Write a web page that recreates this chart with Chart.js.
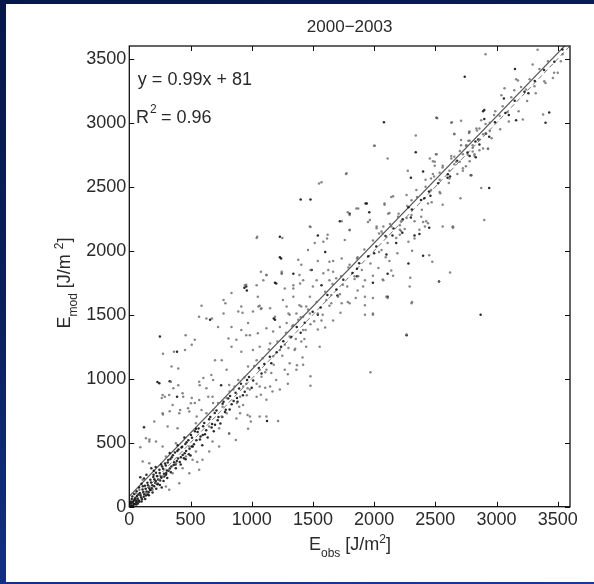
<!DOCTYPE html>
<html>
<head>
<meta charset="utf-8">
<script src="https://cdn.jsdelivr.net/npm/chart.js@4.4.0/dist/chart.umd.min.js"></script>
<style>
html, body { margin: 0; padding: 0; }
body { width: 594px; height: 584px; position: relative; overflow: hidden;
  background: linear-gradient(165deg, #06184a 0%, #0a2160 45%, #17399a 100%); }
#panel { position: absolute; left: 6px; top: 4px; width: 588px; height: 578px; background: #fff; }
canvas { display: block; }
</style>
</head>
<body>
<div id="panel"><canvas id="graficaDispersion" width="588" height="578"></canvas></div>
<script>
// Datos (E_obs, E_mod en J/m2)
var titulo = '2000\u22122003';
var ticksX = [0, 500, 1000, 1500, 2000, 2500, 3000, 3500];
var ticksY = [0, 500, 1000, 1500, 2000, 2500, 3000, 3500];
var ecuacion = 'y = 0.99x + 81';
var r2 = '0.96';

// recta de ajuste (y = 0.99x + 81) y recta 1:1, extremos dentro del eje
var rectaAjuste = [[0, 81], [3555, 3600]];
var rectaUnoUno = [[0, 0], [3600, 3600]];

// puntos oscuros
var puntosOscuros = [
  [2740,3360],[2080,3005],[2340,2770],[2940,2490],[2870,1500],[2265,1340],[1400,2400],[1230,2110],[1230,1950],
  [955,1720],[1125,670],[250,1330],[230,975],[660,1460],[960,1690],[1200,1745],[1340,1820],[1190,1460],[390,1210],
  [330,980],[390,860],[750,950],[1480,2400],[1540,2120],[1600,1990],[1240,1940],[1490,1850],[1720,2230],[1800,2290],
  [1930,2370],[1960,2300],[1860,1860],[1570,1730],[1190,1750],[940,1710],[1990,1750],[1180,1470],[2890,3090],
  [2900,3030],[2850,2870],[2400,2620],[2300,2570],[2410,2410],[2280,2340],[1940,2370],[2330,2120],[3150,3420],
  [3060,3190],[3430,3080],[3400,3000],[3160,3020],[2900,3100],[2510,3040],[2860,2830],[2790,2590],[2830,2730],
  [2600,2570],[2230,2140],[2370,2130],[2180,2060],[2450,2180],[2400,1960],[2100,1970],[2280,1900],[2110,1820],
  [2530,1760],[2110,1640],[245,964],[120,620],[510,470],
  [15,25],[30,10],[42,58],[55,33],[63,84],[78,48],[86,108],[97,72],[108,135],[122,98],[127,163],[141,118],
  [148,188],[163,146],[172,210],[188,168],[196,232],[212,186],[218,266],[236,212],[246,288],[258,236],[268,315],
  [283,258],[292,338],[307,282],[318,364],[331,298],[347,387],[362,326],[373,424],[388,357],[402,447],[421,386],
  [432,468],[452,418],[468,503],[492,452],[512,538],[528,488],[558,583],[577,526],[603,628],[618,566],[652,684],
  [672,618],[698,733],[722,676],[762,804],[788,757],[823,866],[852,826],[897,924],[943,898],[978,1013],[1012,986],
  [1058,1083],[1103,1116],[1148,1172],[1204,1207],[1258,1293],[1322,1327],[1368,1404],[1433,1437],[1498,1524],
  [1563,1556],[1618,1654],[1692,1697],[1748,1774],[1823,1826],[1878,1903],[1952,1957],[2018,2034],[2093,2116],
  [2158,2174],[2233,2246],[2308,2323],[2383,2397],[2448,2463],[2523,2527],[2602,2598],[2678,2703],[2763,2768],
  [2828,2853],[2912,2917],[2987,3004],[3072,3077],[3148,3173],[3228,3243],[3312,3327],[3388,3413],[3472,3477],
  [3538,3572],
  [20,60],[45,20],[70,25],[100,40],[130,60],[160,90],[190,110],[220,140],[250,170],[280,200],[60,120],[80,150],
  [100,180],[120,220],[140,250],[90,230],[40,100],[25,80],[200,280],[310,225],[150,95],[175,130],[230,175],
  [265,150],[300,250],[340,270],[380,300],[420,330],[460,370],[500,400],[215,310],[180,300],[110,160],[65,40],
  [35,45],[10,10],[8,30],[22,5],[50,70],[75,95],[205,215],[260,330],[330,420],[395,480],[450,540],[545,610],
  [600,560],[700,640],[760,700],[820,760],[880,850],[1000,930],[1080,1040],[1160,1120],[1240,1250],[1400,1360],
  [1540,1500],[1700,1650],[1860,1800],[2000,1980],[2150,2120],[2300,2260],[2460,2430],[2620,2580],[2780,2740],
  [2940,2890],[3100,3060],[3260,3230],
  [12,40],[28,35],[38,22],[52,48],[58,18],[68,62],[82,38],[92,88],[104,58],[115,115],[118,78],[133,140],[136,88],
  [152,168],[158,112],[168,130],[178,190],[184,145],[198,250],[203,160],[216,200],[226,240],[232,180],[248,264],
  [252,205],[262,226],[276,296],[286,236],[298,322],[302,264],[314,345],[322,280],[336,372],[344,314],[356,402],
  [366,348],[378,330],[392,436],[398,376],[412,350],[426,462],[436,404],[446,378],[458,490],[464,436],[482,520],
  [486,410],[504,560],[518,470],[536,590],[548,520],[566,612],[582,548],[596,480],[612,654],[628,598],[640,540],
  [662,700],[676,646],[690,590],[712,752],[728,700],[744,650],[770,820],[782,740],[808,846],[836,800],[868,890],
  [884,820],[912,960],[928,870],[962,990]
];

// puntos claros
var puntosClaros = [
  [340,977],[571,977],[816,951],[966,925],[272,873],[326,873],[435,886],[354,795],[503,808],[571,834],[680,860],
  [762,782],[898,782],[966,717],[993,665],[272,730],[408,730],[490,743],[204,665],[313,626],[394,613],[544,652],
  [653,626],[734,613],[816,574],[870,522],[136,535],[163,509],[218,509],[272,470],[381,496],[490,470],[544,431],
  [653,431],[734,470],[680,509],[109,353],[163,340],[299,392],[381,340],[435,301],[517,366],[598,366],[354,262],
  [272,236],[218,184],[299,158],[163,158],[109,210],[82,132],[54,106],[136,106],[190,132],[245,210],[326,288],
  [462,392],[490,262],[571,288],[408,184],[326,132],
  [590,1570],[770,1615],[835,1670],[944,1730],[1040,1730],[1120,1810],[1245,1820],[1390,1810],[1340,1730],
  [1050,1640],[1065,1570],[1150,1550],[1010,1525],[1255,1615],[1285,1565],[1390,1575],[1445,1565],[1300,1510],
  [1365,1510],[1420,1485],[970,1435],[890,1525],[770,1510],[630,1470],[725,1405],[835,1405],[915,1380],[985,1340],
  [1050,1355],[1120,1395],[1175,1370],[1230,1405],[1285,1435],[1340,1420],[1380,1460],[1420,1380],[535,1305],
  [510,1265],[455,1225],[345,1095],[360,925],[400,950],[290,860],[265,850],[440,860],[510,850],[535,810],[480,770],
  [590,755],[415,755],[330,745],[275,720],[605,1005],[670,1030],[575,950],[630,925],[685,990],[795,1070],[700,1145],
  [755,1145],[835,1250],[810,1315],[875,1305],[955,1340],[915,1210],[1010,1225],[1065,1250],[1040,1145],[970,1095],
  [1065,1070],[1120,1070],[1080,1015],[1160,1045],[1200,990],[1270,1070],[1310,1120],[1365,1070],[1420,1110],
  [1350,1225],[1405,1290],[1445,1250],[1175,1175],[1230,1225],[1270,1265],[1310,1330],[1150,1275],[890,990],
  [930,940],[850,915],[905,860],[985,915],[1065,940],[1150,940],[1230,915],[1040,860],[1120,835],[930,795],[795,850],
  [725,810],[685,755],[795,730],[905,730],[985,705],[1065,705],[1120,705],[875,690],[755,705],[630,730],[685,810],
  [645,860],[550,705],
  [1770,2600],[1550,2525],[1040,2100],[1250,2100],[1475,2190],[1620,2125],[1585,2070],[1515,2060],[1460,2005],
  [1380,1930],[1405,1890],[1245,1825],[1635,1915],[1625,1850],[1665,1835],[1855,2330],[1950,2225],[2020,2175],
  [2085,2370],[2140,2420],[2115,2290],[1800,2160],[1760,2085],[1735,1940],[1800,1890],[1840,1800],[1745,1735],
  [1690,1785],[1635,1770],[1585,1825],[1530,1770],[1500,1720],[1420,1770],[1395,1745],[1340,1705],[1270,1705],
  [1120,1810],[1095,1770],[955,1735],[1055,1565],[1080,1550],[915,1565],[1340,1640],[1405,1565],[1475,1640],
  [1475,1510],[1540,1510],[1610,1615],[1650,1655],[1705,1640],[1735,1590],[1800,1590],[1870,1800],[1925,1770],
  [1925,1640],[1925,1575],[1990,1630],[2075,1770],[2100,1640],[1925,1500],[1990,1510],[1190,1485],[1310,1500],
  [2515,3035],[2635,3005],[2710,3015],[2655,2915],[2780,2930],[2860,2955],[2915,2915],[2340,2900],[2005,2820],
  [2110,2720],[2510,2755],[2455,2720],[2495,2695],[2710,2865],[2755,2825],[2805,2825],[2805,2775],[2860,2785],
  [2655,2735],[2700,2695],[2765,2750],[1775,2605],[2275,2625],[2420,2555],[2465,2565],[2535,2555],[2615,2565],
  [2725,2645],[2795,2590],[2670,2695],[2875,2490],[2930,2800],[2705,2410],[2560,2360],[2535,2460],[2465,2475],
  [2440,2370],[2345,2475],[2265,2435],[2305,2395],[2155,2425],[2085,2360],[1870,2330],[1800,2280],[2125,2295],
  [2195,2265],[2265,2255],[2305,2280],[2385,2265],[2425,2230],[2415,2190],[2220,2230],[2210,2165],[2140,2190],
  [2075,2190],[2020,2190],[1965,2240],[1800,2165],[1735,2230],[2040,2135],[2100,2110],[2210,2125],[2370,2165],
  [2560,2190],[2645,2190],[2900,2240],[2440,2215],
  [2910,3535],[3335,3570],[3160,3340],[3175,3330],[3295,3455],[3065,3270],[3040,3215],[3145,3255],[3240,3260],
  [3310,3285],[3390,3325],[3460,3350],[3500,3390],[3525,3480],[3540,3535],[3380,3065],[3215,3025],[3090,3085],
  [2990,3090],[2875,3020],[2945,3000],[3025,3055],[2630,3000],[2655,2910],[2775,2930],[2835,2955],[2890,2910],
  [2945,2935],[2860,2870],[2780,2860],[2710,2825],[2750,2820],[2805,2805],[2930,2795],[2820,2755],[2725,2755],
  [2630,2740],[2505,2755],[2480,2700],[2495,2665],[2615,2625],[2725,2625],[2780,2700],[2655,2675],[2560,2665],
  [2535,2610],[2480,2600],
  [2070,2135],[2210,2200],[2330,2095],[2400,2225],[2645,2180],[2310,2000],[2450,1965],[2475,1915],[2060,2005],
  [2140,1845],[2070,1775],[2620,1830],[2290,1720],[2305,1590],[2265,1345],
  [2000,2820],[2775,2920],[2530,1760],[2640,2185],[2295,1790],[2310,1600],[2110,1630],[2095,1950],[1990,1500],
  [1970,1050],[1865,1690],[1865,1950],[1785,2300],[1570,2535],[1480,2185],[1615,2095],[1665,1920],[1540,1920],
  [1480,1850],[1540,1385],[1555,1250],[1480,1020],[1480,945],[1045,2110],[1245,1835],[1075,1835],[1075,1545],
  [925,1515],[785,1590],[675,1470],[570,1485],[460,1340],[365,1210],[275,1195],[400,1080],[1215,670],[970,610],
  [815,570],[555,350],[165,525],[90,465],
  [955,960],[1075,875],[1110,930],[1170,900],[1295,960],[1295,1035],[1370,1105],[1415,1165],[1355,1235],[1430,1310],
  [1480,1425],[1570,1455],[1600,1400],[1665,1455],[1725,1515],[1635,1570],[1785,1600],[1850,1630],[1910,1720],
  [1990,1805],[2035,1865],[2125,1920],[2190,1980],[2155,1805],[2220,2155],[2280,2070],
  [820,900],[860,940],[880,810],[940,1010],[960,870],[1020,1100],[1040,960],[1090,1160],[1110,1050],[1140,1230],
  [1180,1110],[1210,1290],[1250,1180],[1280,1360],[1300,1240],[1330,1410],[1360,1310],[1400,1480],[1440,1380],
  [1460,1540],[1510,1450],[1530,1600],[1580,1500],[1600,1680],[1650,1590],[1660,1740],[1720,1660],[1730,1800],
  [1780,1720],[1790,1870],[1840,1780],[1860,1940],[1900,1850],[1920,2010],[1970,1900],[1990,2080],[2040,1990],
  [2060,2150],[2110,2060],[2130,2210],[2180,2100],[2200,2290],[2250,2170],[2270,2350],[2330,2230],[2350,2420],
  [2390,2320],[2420,2500],[2470,2380],[2490,2580],[2540,2450],[2560,2650],[2610,2530],[2630,2720],[2680,2600],
  [2700,2780],[2750,2660],[2770,2860],[2820,2740],[2840,2940],[2890,2800],[2910,2990],[2960,2880],[2980,3060],
  [3030,2950],[3050,3130],[3100,3010],[3120,3200],[3180,3090],[3200,3280],[3250,3170],[3270,3340],[3320,3230],
  [3350,3420],[3400,3310],[3420,3480],[3470,3390]
];

function aXY(lista) {
  return lista.map(function (p) { return { x: p[0], y: p[1] }; });
}

var fuente = "'Liberation Sans', Arial, Helvetica, sans-serif";
var colorTexto = '#2a2a2a';

// caja con marcas hacia dentro (estilo MATLAB)
var cajaEjes = {
  id: 'cajaEjes',
  afterDatasetsDraw: function (chart) {
    var ctx = chart.ctx, a = chart.chartArea, sx = chart.scales.x, sy = chart.scales.y;
    ctx.save();
    ctx.strokeStyle = '#111';
    ctx.lineWidth = 1.3;
    ctx.strokeRect(a.left, a.top, a.right - a.left, a.bottom - a.top);
    ctx.lineWidth = 1;
    ctx.beginPath();
    ticksX.forEach(function (v) {
      var px = Math.round(sx.getPixelForValue(v)) + 0.5;
      ctx.moveTo(px, a.bottom); ctx.lineTo(px, a.bottom - 5);
      ctx.moveTo(px, a.top); ctx.lineTo(px, a.top + 5);
    });
    ticksY.forEach(function (v) {
      var py = Math.round(sy.getPixelForValue(v)) + 0.5;
      ctx.moveTo(a.left, py); ctx.lineTo(a.left + 5, py);
      ctx.moveTo(a.right, py); ctx.lineTo(a.right - 5, py);
    });
    ctx.stroke();
    ctx.restore();
  }
};

// texto con subindices / superindices
function textoCompuesto(ctx, partes, x, y) {
  var ancho = 0;
  partes.forEach(function (p) {
    ctx.font = p.t + 'px ' + fuente;
    ancho += ctx.measureText(p.s).width;
  });
  var cx = x - ancho / 2;
  partes.forEach(function (p) {
    ctx.font = p.t + 'px ' + fuente;
    ctx.fillText(p.s, cx, y + p.dy);
    cx += ctx.measureText(p.s).width;
  });
}

var textosEjes = {
  id: 'textosEjes',
  afterDraw: function (chart) {
    var ctx = chart.ctx, sx = chart.scales.x, sy = chart.scales.y, a = chart.chartArea;
    ctx.save();
    ctx.fillStyle = colorTexto;
    ctx.textAlign = 'left';
    // titulo
    ctx.textBaseline = 'middle';
    ctx.font = '17px ' + fuente;
    var wt = ctx.measureText(titulo).width;
    ctx.fillText(titulo, (a.left + a.right) / 2 - wt / 2, 23);
    ctx.textBaseline = 'alphabetic';
    // titulo eje x
    textoCompuesto(ctx, [
      { s: 'E', t: 18, dy: 0 }, { s: 'obs', t: 12, dy: 7 }, { s: ' [J/m', t: 18, dy: 0 },
      { s: '2', t: 12, dy: -7 }, { s: ']', t: 18, dy: 0 }
    ], 344, 546);
    // titulo eje y
    ctx.save();
    ctx.translate(64, 279);
    ctx.rotate(-Math.PI / 2);
    textoCompuesto(ctx, [
      { s: 'E', t: 18, dy: 0 }, { s: 'mod', t: 12, dy: 7 }, { s: ' [J/m ', t: 18, dy: 0 },
      { s: '2', t: 12, dy: -7 }, { s: ']', t: 18, dy: 0 }
    ], 0, 0);
    ctx.restore();
    // ecuacion y R2
    ctx.font = '18px ' + fuente;
    ctx.textBaseline = 'middle';
    ctx.fillText(ecuacion, sx.getPixelForValue(70), sy.getPixelForValue(3335));
    var rx = sx.getPixelForValue(55), ry = sy.getPixelForValue(3040);
    ctx.fillText('R', rx, ry);
    var w = ctx.measureText('R').width;
    ctx.font = '12px ' + fuente;
    ctx.fillText('2', rx + w + 1, ry - 8);
    ctx.font = '18px ' + fuente;
    ctx.fillText(' = ' + r2, rx + w + 7, ry);
    ctx.restore();
  }
};

function ticksFijos(lista) {
  return function (s) { s.ticks = lista.map(function (v) { return { value: v }; }); };
}

var ctxDispersion = document.getElementById('graficaDispersion').getContext('2d');
var graficaDispersion = new Chart(ctxDispersion, {
  type: 'scatter',
  data: {
    datasets: [
      {
        label: 'claros',
        data: aXY(puntosClaros),
        backgroundColor: 'rgba(105,105,105,0.8)',
        pointRadius: 1.25,
        pointBorderWidth: 0
      },
      {
        label: 'oscuros',
        data: aXY(puntosOscuros),
        backgroundColor: 'rgba(20,20,20,0.9)',
        pointRadius: 1.25,
        pointBorderWidth: 0
      },
      {
        type: 'line',
        label: '1:1',
        data: aXY(rectaUnoUno),
        borderColor: '#777',
        borderWidth: 1,
        borderDash: [5, 3],
        pointRadius: 0
      },
      {
        type: 'line',
        label: 'ajuste',
        data: aXY(rectaAjuste),
        borderColor: '#555',
        borderWidth: 1.1,
        pointRadius: 0
      }
    ]
  },
  options: {
    responsive: false,
    animation: false,
    layout: { padding: { left: 0, right: 24, top: 42, bottom: 0 } },
    plugins: {
      legend: { display: false },
      tooltip: { enabled: false },
      title: { display: false }
    },
    scales: {
      x: {
        type: 'linear',
        min: 0,
        max: 3600,
        grid: { display: false, drawTicks: false },
        border: { display: false },
        afterBuildTicks: ticksFijos(ticksX),
        ticks: { color: colorTexto, padding: 3, maxRotation: 0, autoSkip: false,
          callback: function (v) { return String(v); },
          font: { family: fuente, size: 18 } },
        afterFit: function (s) { s.height = 75.3; }
      },
      y: {
        type: 'linear',
        min: 0,
        max: 3600,
        grid: { display: false, drawTicks: false },
        border: { display: false },
        afterBuildTicks: ticksFijos(ticksY),
        ticks: { color: colorTexto, padding: 3, autoSkip: false,
          callback: function (v) { return String(v); },
          font: { family: fuente, size: 18 } },
        afterFit: function (s) { s.width = 123.3; }
      }
    }
  },
  plugins: [cajaEjes, textosEjes]
});
</script>
</body>
</html>
